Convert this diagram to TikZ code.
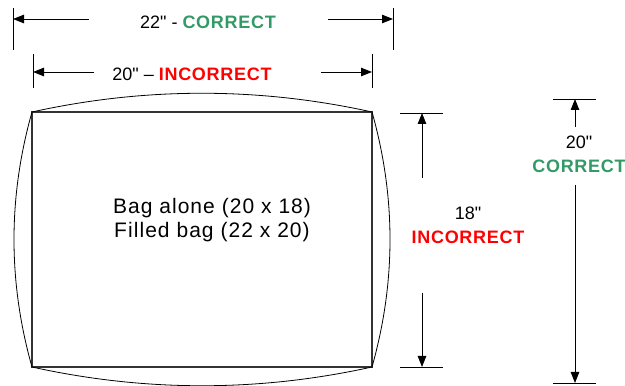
\documentclass[tikz,border=0pt]{standalone}
\usepackage{fontspec}
\setmainfont{Liberation Sans}[Ligatures=TeXOff]
\usetikzlibrary{arrows.meta}

\definecolor{okgreen}{RGB}{51,153,102}
\definecolor{badred}{RGB}{255,0,0}

\newcommand{\okword}{{\color{okgreen}\bfseries\addfontfeature{LetterSpace=4}CORRECT}}
\newcommand{\badword}{{\color{badred}\bfseries\addfontfeature{LetterSpace=4}INCORRECT}}

\begin{document}
\begin{tikzpicture}[x=1pt,y=1pt,
  dimline/.style={-{Triangle[length=11pt,width=8.5pt]},line width=0.9pt},
  tickline/.style={line width=0.8pt},
  dimlabel/.style={font=\fontsize{18}{24}\selectfont,inner sep=0pt,align=center}]

\useasboundingbox (0,0) rectangle (625,386);

% bag alone and filled outline
\draw[line width=1.2pt,black!80] (32,19) rectangle (372,274);
\draw[line width=0.8pt] (32,274) .. controls (145,299) and (259,299) .. (372,274)
  .. controls (396,189) and (396,104) .. (372,19)
  .. controls (259,-6) and (145,-6) .. (32,19)
  .. controls (8,104) and (8,189) .. (32,274);

\node[font=\fontsize{21}{24}\selectfont\addfontfeature{LetterSpace=5},align=center]
  (bagtext) at (212,166) {Bag alone (20 x 18)\\Filled bag (22 x 20)};

% dimension ends
\coordinate (wOutL) at (13,367);
\coordinate (wOutR) at (393,367);
\coordinate (wInL) at (33,314);
\coordinate (wInR) at (372,314);
\coordinate (hInT) at (422,273);
\coordinate (hInB) at (422,19);
\coordinate (hOutT) at (575,287);
\coordinate (hOutB) at (575,3);

% ticks
\foreach \c in {wOutL,wOutR}
  \draw[tickline] ([yshift=11pt]\c) -- ([yshift=-31pt]\c);
\foreach \c in {wInL,wInR}
  \draw[tickline] ([yshift=18pt]\c) -- ([yshift=-16pt]\c);
\foreach \c in {hInT,hInB}
  \draw[tickline] ([xshift=-22pt]\c) -- ([xshift=21pt]\c);
\foreach \c in {hOutT,hOutB}
  \draw[tickline] ([xshift=-22pt]\c) -- ([xshift=21pt]\c);

% labels
\node[dimlabel] (wOut) at (208,364) {22" - \okword};
\node[dimlabel] (wIn) at (192,312) {20" – \badword};
\node[dimlabel] (hIn) at (468,161) {18"\\\badword};
\node[dimlabel] (hOut) at (579,232) {20"\\\okword};

% arrow starts
\coordinate (wOutLs) at (89,367);
\coordinate (wOutRs) at (328,367);
\coordinate (wInLs) at (94,314);
\coordinate (wInRs) at (321,314);
\coordinate (hInTs) at (422,208);
\coordinate (hInBs) at (422,93);
\coordinate (hOutTs) at (575,259);
\coordinate (hOutBs) at (575,201);

\foreach \s/\e in {wOutLs/wOutL,wOutRs/wOutR,wInLs/wInL,wInRs/wInR,
                   hInTs/hInT,hInBs/hInB,hOutTs/hOutT,hOutBs/hOutB}
  \draw[dimline] (\s) -- (\e);

\end{tikzpicture}
\end{document}
